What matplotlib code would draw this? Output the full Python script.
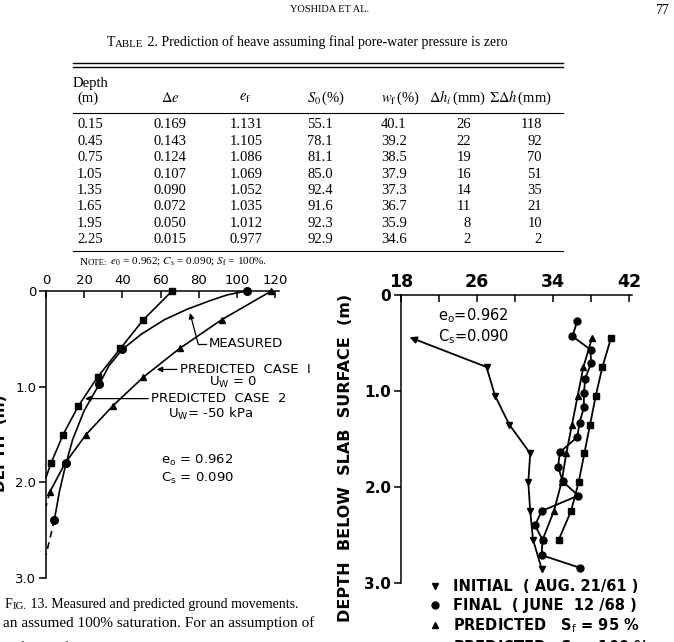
import matplotlib
matplotlib.use("Agg")
from matplotlib import pyplot as plt
from matplotlib.font_manager import FontProperties

W, H = 674, 642
SERIF = "Liberation Serif"

# table 2
depth = [0.15, 0.45, 0.75, 1.05, 1.35, 1.65, 1.95, 2.25]
d_e = [0.169, 0.143, 0.124, 0.107, 0.090, 0.072, 0.050, 0.015]
e_f = [1.131, 1.105, 1.086, 1.069, 1.052, 1.035, 1.012, 0.977]
s_0 = [55.1, 78.1, 81.1, 85.0, 92.4, 91.6, 92.3, 92.9]
w_f = [40.1, 39.2, 38.5, 37.9, 37.3, 36.7, 35.9, 34.6]
dh_i = [26, 22, 19, 16, 14, 11, 8, 2]
sum_dh = [118, 92, 70, 51, 35, 21, 10, 2]

# fig 13 - heave (mm) vs depth (m)
case1_depth = [0, 0.3, 0.6, 0.9, 1.2, 1.5, 1.8, 2.1]
case1_heave = [118, 92, 70, 51, 35, 21, 10, 2]
case1_tail = ([2, 0], [2.1, 2.25])
case2_depth = [0, 0.3, 0.6, 0.9, 1.2, 1.5, 1.8]
case2_heave = [66, 51, 39, 27, 17, 9, 2.6]
case2_tail = ([2.6, 0], [1.8, 1.95])
meas_depth = [0, 0.61, 0.97, 1.8, 2.39]
meas_heave = [105, 40, 28, 10.5, 4.4]
meas_curve_depth = [0, 0.04, 0.10, 0.19, 0.30, 0.45, 0.61, 0.78, 0.97, 1.25, 1.55, 1.8, 2.1, 2.39]
meas_curve_heave = [105, 95, 86, 74, 62, 50, 40, 33, 28, 20, 14, 10.5, 7, 4.4]
meas_tail = ([4.4, 0], [2.39, 2.76])

# fig 14 - water content (%) vs depth (m)
init_depth = [0.75, 1.05, 1.35, 1.65, 1.95, 2.25, 2.55, 2.85]
init_w = [27.0, 27.9, 29.4, 31.6, 31.4, 31.6, 31.9, 32.8]
init_off = (18.9, 0.44)
final_depth = [0.27, 0.43, 0.57, 0.71, 0.87, 1.02, 1.17, 1.33, 1.48,
               1.64, 1.79, 1.94, 2.09, 2.25, 2.40, 2.55, 2.71, 2.84]
final_w = [36.55, 36.05, 37.95, 38.0, 37.4, 37.25, 37.25, 36.8, 36.55,
           34.7, 34.55, 35.0, 36.65, 32.8, 32.1, 32.9, 32.8, 36.8]
pred_depth = [0.45, 0.75, 1.05, 1.35, 1.65, 1.95, 2.25, 2.55]
pred95_w = [38.1, 37.2, 36.6, 36.0, 35.4, 34.9, 34.1, 32.9]
pred100_w = [40.1, 39.2, 38.5, 37.9, 37.3, 36.7, 35.9, 34.6]

plt.rcParams["font.family"] = "DejaVu Sans"
plt.rcParams["mathtext.fontset"] = "dejavusans"

fig = plt.figure(figsize=(W / 100, H / 100), dpi=100)
bg = fig.add_axes([0, 0, 1, 1])
bg.set_xlim(0, W)
bg.set_ylim(H, 0)
bg.axis("off")


def serif(x, y, s, size=10.5, **kw):
    return bg.text(x, y, s, family=SERIF, fontsize=size, math_fontfamily="stix", **kw)


def chain(x, y, parts):
    # small caps imitation: pieces of text glued one after another
    t = serif(x, y, parts[0][0], parts[0][1], va="baseline")
    for s, size in parts[1:]:
        t = bg.annotate(s, xy=(1, 0), xycoords=t, va="bottom", family=SERIF,
                        fontsize=size, math_fontfamily="stix")
    return t


# page header + table
serif(330, 10, "YOSHIDA ET AL.", 7.5, ha="center", va="center")
serif(669, 11, "77", 10, ha="right", va="center")
chain(107, 46, [("T", 10), ("ABLE", 7.8),
                (" 2. Prediction of heave assuming final pore-water pressure is zero", 10)])

for yy, lw in [(63, 1.0), (66.5, 1.0), (113, 0.8), (251, 0.8)]:
    bg.plot([73, 563], [yy, yy], color="k", lw=lw)

serif(73, 83, "Depth", va="center")
serif(77, 98, "(m)", va="center")
serif(170, 98, r"$\Delta e$", ha="center", va="center")
serif(245, 98, r"$e_\mathrm{f}$", ha="center", va="center")
serif(307, 98, r"$S_0\,$(%)", va="center")
serif(381, 98, r"$w_\mathrm{f}\,$(%)", va="center")
serif(429, 98, r"$\Delta h_i\,$(mm)", va="center")
serif(489, 98, r"$\Sigma\Delta h\,$(mm)", va="center")

for i in range(len(depth)):
    y = 125 + 16.4 * i
    serif(77, y, f"{depth[i]:.2f}", va="center")
    serif(153, y, f"{d_e[i]:.3f}", va="center")
    serif(230, y, f"{e_f[i]:.3f}", va="center")
    serif(307, y, f"{s_0[i]:.1f}", va="center")
    serif(381, y, f"{w_f[i]:.1f}", va="center")
    serif(471, y, str(dh_i[i]), ha="right", va="center")
    serif(542, y, str(sum_dh[i]), ha="right", va="center")

chain(80, 265, [("N", 8), ("OTE:", 6.3),
                (r" $e_0$ = 0.962; $C_\mathrm{s}$ = 0.090; $S_\mathrm{f}$ = 100%.", 8)])

# captions / body text
chain(5, 608, [("F", 10), ("IG.", 7.8), (" 13. Measured and predicted ground movements.", 10)])
serif(3, 627, "an assumed 100% saturation. For an assumption of", 11, va="baseline")
serif(3, 652, r"$S_\mathrm{f}$ for the final saturation, Fig. 14 shows that the", 11, va="baseline")


def px_axes(x0, y0, x1, y1):
    return fig.add_axes([x0 / W, 1 - y1 / H, (x1 - x0) / W, (y1 - y0) / H])


def style(ax):
    ax.set_facecolor("none")
    ax.spines[["right", "bottom"]].set_visible(False)
    for s in ("left", "top"):
        ax.spines[s].set_linewidth(1.1)
    ax.xaxis.tick_top()
    ax.tick_params(axis="x", direction="in", length=5, width=1.1, pad=3)
    ax.tick_params(axis="y", direction="out", length=5, width=1.1, pad=2)
    ax.set_ylim(3.0, 0)
    ax.set_yticks([0, 1, 2, 3])
    ax.set_yticklabels(["0", "1.0", "2.0", "3.0"])


# ---- Fig 13 ----
axL = px_axes(46, 291, 46 + 122 * 1.91, 578)
style(axL)
axL.set_xlim(0, 122)
axL.set_xticks(range(0, 121, 20))
axL.tick_params(labelsize=9.5)

lk = dict(color="k", lw=1.2, clip_on=False)
axL.plot(case1_heave, case1_depth, marker="^", ms=5, **lk)
axL.plot(*case1_tail, ls=(0, (4, 3)), **lk)
axL.plot(case2_heave, case2_depth, marker="s", ms=4.5, **lk)
axL.plot(*case2_tail, **lk)
axL.plot(meas_curve_heave, meas_curve_depth, **lk)
axL.plot(meas_heave, meas_depth, ls="none", marker="o", ms=5.5, color="k", clip_on=False)
axL.plot(*meas_tail, ls=(0, (4, 3)), **lk)

ak = dict(arrowstyle="-|>", color="k", lw=0.9, mutation_scale=8, shrinkA=0, shrinkB=0)
lab_kw = dict(fontsize=9.5, va="center", annotation_clip=False)
axL.annotate("", xy=(75.4, 0.23), xytext=(79.6, 0.55), arrowprops=ak)
axL.plot([79.6, 84], [0.55, 0.55], color="k", lw=0.9, clip_on=False)
axL.text(85, 0.55, "MEASURED", fontsize=9.5, va="center")
axL.annotate("PREDICTED  CASE  I", xy=(58, 0.82), xytext=(70, 0.82),
             arrowprops=ak, **lab_kw)
axL.text(98, 0.955, r"U$_\mathrm{W}$ = 0", fontsize=9.5, ha="center", va="center")
axL.annotate("PREDICTED  CASE  2", xy=(20.4, 1.125), xytext=(55, 1.125),
             arrowprops=ak, **lab_kw)
axL.text(86, 1.28, r"U$_\mathrm{W}$= -50 kPa", fontsize=9.5, ha="center", va="center")
axL.text(60, 1.77, r"e$_\mathrm{o}$ = 0.962", fontsize=9.5, va="center")
axL.text(60, 1.96, r"C$_\mathrm{s}$ = 0.090", fontsize=9.5, va="center")

bg.text(1, 443, "DEPTH  (m)", rotation=90, ha="center", va="center",
        fontsize=11, fontweight="bold")

# ---- Fig 14 ----
axR = px_axes(401, 295, 401 + 24.3 * 9.5, 583)
style(axR)
axR.set_xlim(18, 42.3)
axR.set_xticks(range(18, 43, 4))
axR.set_xticklabels([str(v) if (v - 18) % 8 == 0 else "" for v in range(18, 43, 4)])
axR.tick_params(axis="x", labelsize=12.5)
axR.tick_params(axis="y", labelsize=11)
for lab in axR.get_xticklabels() + axR.get_yticklabels():
    lab.set_fontweight("bold")

rk = dict(color="k", lw=1.3, ms=5)
h_init, = axR.plot(init_w, init_depth, marker="v", **rk)
axR.annotate("", xy=init_off, xytext=(init_w[0], init_depth[0]),
             arrowprops=dict(arrowstyle="-|>", color="k", lw=1.3,
                             mutation_scale=10, shrinkA=0, shrinkB=0))
h_fin, = axR.plot(final_w, final_depth, marker="o", **rk)
h_95, = axR.plot(pred95_w, pred_depth, marker="^", **rk)
h_100, = axR.plot(pred100_w, pred_depth, marker="s", **rk)

axR.text(21.9, 0.21, r"e$_\mathrm{o}$=0.962", fontsize=10.5, va="center")
axR.text(21.9, 0.43, r"C$_\mathrm{s}$=0.090", fontsize=10.5, va="center")

bg.text(346, 458, "DEPTH  BELOW  SLAB  SURFACE  (m)", rotation=90,
        ha="center", va="center", fontsize=11.5, fontweight="bold")

leg_handles = []
for h in (h_init, h_fin, h_95, h_100):
    p, = bg.plot([], [], ls="none", marker=h.get_marker(), color="k", ms=5)
    leg_handles.append(p)
fig.legend(leg_handles,
           ["INITIAL  ( AUG. 21/61 )", "FINAL  ( JUNE  12 /68 )",
            r"PREDICTED   S$_\mathrm{f}$ = 95 %", r"PREDICTED   S$_\mathrm{f}$ = 100 %"],
           loc="upper left", bbox_to_anchor=(428 / W, 1 - 579 / H),
           frameon=False, handlelength=1.0, handletextpad=0.7,
           labelspacing=0.25, borderpad=0, borderaxespad=0,
           prop=FontProperties(size=10.5, weight="bold", math_fontfamily="dejavusans"))

fig.savefig("out.png", dpi=100)
